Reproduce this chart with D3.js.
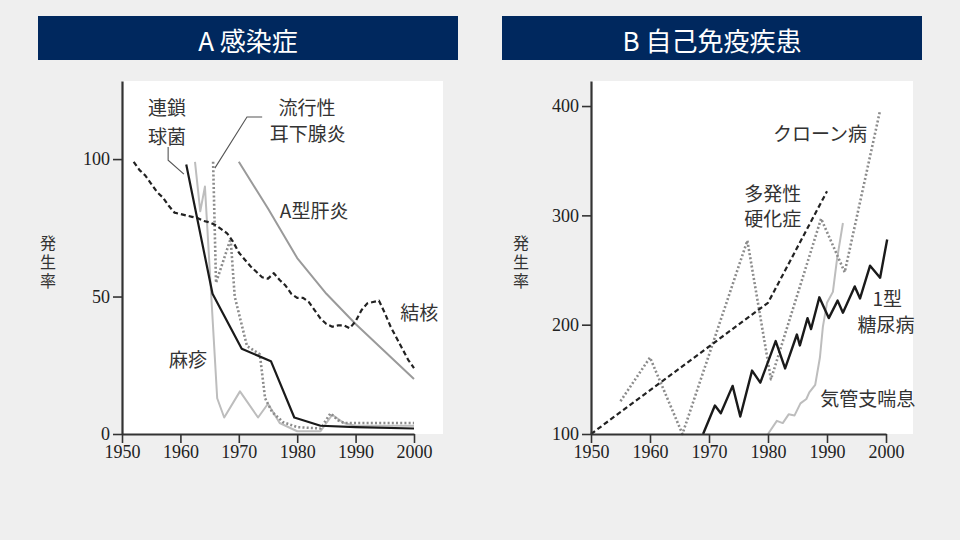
<!DOCTYPE html>
<html><head><meta charset="utf-8">
<script src="https://cdn.jsdelivr.net/npm/d3@7"></script>
<style>
html,body{margin:0;padding:0;background:#efefef;}
svg{display:block;}
</style></head>
<body>
<svg id="chart" width="960" height="540"></svg>
<script>
// ---------- DATA ----------
const xTicks = [1950, 1960, 1970, 1980, 1990, 2000];
const yTicksA = [0, 50, 100];
const yTicksB = [100, 200, 300, 400];
const panelTitles = ["A 感染症", "B 自己免疫疾患"];
const yLabel = "発生率";

// Panel A: infections
const tbYears = [1952,1953,1954,1955,1956,1957,1958,1959,1960,1961,1962,1963,1964,1965,1966,1967,1968,1969,1970,1971,1972,1973,1974,1975,1976,1977,1978,1979,1980,1981,1982,1983,1984,1985,1986,1987,1988,1989,1990,1991,1992,1993,1994,1995,1996,1997,1998,1999,2000];
const tbValues = [99,96,94,91,88,86,83,80.5,80,79.5,79,78.5,77.5,77,76,74.5,73,70,66,63.5,61,59,57,56.5,58.5,56,54,51,49.5,49.5,48,45,42,40,39,39.5,39.5,38.5,41,45,47.5,48,48.5,44,39,35,31,27,24];
const hepYears = [1970,1975,1980,1985,1990,1995,2000];
const hepValues = [99,82,64,51,40,30,20];
const strepYears = [1961,1965.5,1970.5,1975.5,1979.5,1984,1990,2000];
const strepValues = [98,51,31,26.5,6,3,2.5,2];
const measlesYears = [1962.5,1963.4,1964.2,1966.3,1967.5,1970.2,1973.3,1975,1977,1980,1984,1986,1988,1990,2000];
const measlesValues = [99,81,90,13,6,15.5,6,11,4,1,1,7,4,3,3];
const mumpsYears = [1965.6,1966.1,1968.6,1969.3,1971.4,1973.6,1974.5,1975.7,1977.6,1980,1984,1985.7,1987,1988,2000];
const mumpsValues = [99,55,71,50,32,29,13,8,4.3,2.5,2,7.5,5,4,4];

// Panel B: autoimmune
const msYears = [1950,1980,1990];
const msValues = [100,220,322];
const crohnYears = [1955,1960,1965.5,1976.5,1980.5,1989,1993,1999];
const crohnValues = [130,170,100,277,150,297,248,396];
const diabYears = [1969,1971,1972,1974,1975.3,1977.3,1978.7,1981.3,1982.9,1984.9,1985.4,1986.7,1987.3,1988.7,1990.3,1991.8,1992.7,1994.7,1995.6,1997.3,1999,2000.2];
const diabValues = [100,126,119,144,116,158,147,185,160,191,181,206,196,225,206,222,211,235,224,254,243,278];
const asthmaYears = [1980,1981.5,1982.5,1983.5,1984.5,1985.5,1986.5,1987,1988,1988.8,1989.3,1990,1991,1991.7,1992.7];
const asthmaValues = [100,112,110,118,117,128,132,138,145,170,198,220,230,260,293];

// Labels (text, year, value) in data units
const labelsA = [
  ["連鎖", 1957.7, 119.3], ["球菌", 1957.7, 108.7],
  ["流行性", 1981.7, 119.3], ["耳下腺炎", 1981.8, 109.5],
  ["A型肝炎", 1982.9, 81.5], ["結核", 2000.9, 44.4], ["麻疹", 1961.3, 27.6]
];
const leadersA = [
  [[1957.9,104.4],[1957.9,99.6],[1960.6,94.5]],
  [[1965.9,96.7],[1971.4,115.3],[1974,115.3]]
];
const labelsB = [
  ["クローン病", 1988.8, 376], ["多発性", 1980.8, 321], ["硬化症", 1980.8, 297.6],
  ["1型", 2000.2, 225], ["糖尿病", 2000, 201.5], ["気管支喘息", 1996.9, 133]
];

// ---------- DRAW ----------
const svg = d3.select("#chart");
const jpFont = "'Noto Sans CJK JP','Noto Sans',sans-serif";
const numFont = "'Liberation Serif','DejaVu Serif',serif";

function zip(xs, ys){ return xs.map((x,i)=>[x, ys[i]]); }

function panel(opt){
  const g = svg.append("g");
  // title bar
  g.append("rect").attr("x", opt.bar[0]).attr("y", 16).attr("width", opt.bar[1]-opt.bar[0]).attr("height", 44).attr("fill", "#00285e");
  g.append("text").attr("x", (opt.bar[0]+opt.bar[1])/2).attr("y", 39).attr("text-anchor","middle")
    .attr("dominant-baseline","central").attr("fill","#fff").style("font-family", jpFont).style("font-size", "26px")
    .text(opt.title.replace(" ", "\u00a0"));
  const x = d3.scaleLinear().domain([1950, 2000]).range(opt.xr);
  const y = d3.scaleLinear().domain(opt.yd).range([434, 81]);
  // white plot area
  g.append("rect").attr("x", opt.xr[0]).attr("y", 81).attr("width", opt.whiteRight - opt.xr[0]).attr("height", 434-81).attr("fill", "#fff");
  // series
  const line = d3.line().x(d=>x(d[0])).y(d=>y(d[1]));
  opt.series.forEach(s=>{
    g.append("path").datum(zip(s.xs, s.ys)).attr("d", line).attr("fill","none")
      .attr("stroke", s.color).attr("stroke-width", s.w).attr("stroke-dasharray", s.dash || null)
      .attr("stroke-linejoin","round");
  });
  // leaders
  (opt.leaders||[]).forEach(l=>{
    g.append("path").datum(l).attr("d", line).attr("fill","none").attr("stroke","#555").attr("stroke-width",1.1);
  });
  // labels
  opt.labels.forEach(l=>{
    g.append("text").attr("x", x(l[1])).attr("y", y(l[2])).attr("text-anchor","middle")
      .attr("dominant-baseline","central").style("font-family", jpFont).style("font-size", "19px")
      .attr("fill","#333").text(l[0]);
  });
  // axes
  const xa = g.append("g").attr("transform","translate(0,434)")
    .call(d3.axisBottom(x).tickValues(xTicks).tickFormat(d3.format("d")).tickSize(9).tickSizeOuter(0).tickPadding(2));
  const ya = g.append("g").attr("transform",`translate(${opt.xr[0]},0)`)
    .call(d3.axisLeft(y).tickValues(opt.yTicks).tickSize(9).tickSizeOuter(0).tickPadding(3));
  [xa, ya].forEach(a=>{
    a.attr("font-family", null).attr("font-size", null);
    a.select(".domain").attr("stroke","#333").attr("stroke-width",2.2);
    a.selectAll(".tick line").attr("stroke","#333").attr("stroke-width",1.6);
    a.selectAll(".tick text").attr("fill","#222").style("font-family", numFont).style("font-size", "18px");
  });
  // y label, vertical writing
  g.append("text").attr("x", opt.ylabX).attr("y", 263).attr("text-anchor","middle")
    .style("writing-mode","vertical-rl").style("letter-spacing","3px")
    .style("font-family", jpFont).style("font-size", "16px")
    .attr("fill","#333").text(yLabel);
}

panel({
  title: panelTitles[0], bar:[38,458], xr:[122,414], whiteRight:443, yd:[0,128.4], yTicks:yTicksA, ylabX:48,
  series:[
    {xs:hepYears, ys:hepValues, color:"#9a9a9a", w:2},
    {xs:measlesYears, ys:measlesValues, color:"#bdbdbd", w:2},
    {xs:mumpsYears, ys:mumpsValues, color:"#8c8c8c", w:2.6, dash:"2,2.2"},
    {xs:tbYears, ys:tbValues, color:"#222", w:2.2, dash:"5,3"},
    {xs:strepYears, ys:strepValues, color:"#1a1a1a", w:2.2}
  ],
  labels: labelsA, leaders: leadersA
});

panel({
  title: panelTitles[1], bar:[502,922], xr:[591,886], whiteRight:913, yd:[100,422.9], yTicks:yTicksB, ylabX:521,
  series:[
    {xs:asthmaYears, ys:asthmaValues, color:"#bdbdbd", w:2},
    {xs:crohnYears, ys:crohnValues, color:"#8c8c8c", w:2.6, dash:"2,2.2"},
    {xs:msYears, ys:msValues, color:"#222", w:2.2, dash:"5,3"},
    {xs:diabYears, ys:diabValues, color:"#1a1a1a", w:2.4}
  ],
  labels: labelsB
});
</script>
</body></html>
